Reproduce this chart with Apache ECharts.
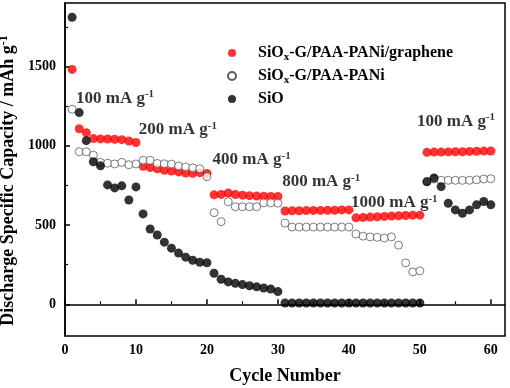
<!DOCTYPE html>
<html>
<head>
<meta charset="utf-8">
<script src="https://cdn.jsdelivr.net/npm/echarts@6/dist/echarts.min.js"></script>
<style>
  html, body { margin: 0; padding: 0; background: #fff; }
  #chart { width: 510px; height: 388px; }
</style>
</head>
<body>
<div id="chart"></div>
<script>
const cycles = [1, 2, 3, 4, 5, 6, 7, 8, 9, 10, 11, 12, 13, 14, 15, 16, 17, 18, 19, 20,
  21, 22, 23, 24, 25, 26, 27, 28, 29, 30, 31, 32, 33, 34, 35, 36, 37, 38, 39, 40,
  41, 42, 43, 44, 45, 46, 47, 48, 49, 50, 51, 52, 53, 54, 55, 56, 57, 58, 59, 60];

// SiOx-G/PAA-PANi/graphene (red)
const grapheneCap = [1481, 1107, 1082, 1045, 1043, 1042, 1040, 1038, 1030, 1020,
  870, 862, 855, 845, 840, 835, 828, 826, 830, 825,
  690, 693, 702, 692, 688, 685, 683, 682, 680, 680,
  588, 590, 590, 591, 592, 592, 593, 593, 595, 595,
  545, 548, 550, 552, 554, 556, 558, 560, 562, 562,
  958, 960, 960, 961, 962, 962, 964, 965, 966, 967];

// SiOx-G/PAA-PANi (open)
const paniCap = [1230, 962, 962, 940, 895, 890, 885, 895, 880, 885,
  908, 908, 888, 886, 884, 872, 866, 860, 855, 805,
  578, 521, 647, 615, 615, 615, 615, 640, 640, 638,
  512, 487, 487, 487, 487, 487, 487, 487, 487, 487,
  443, 430, 425, 422, 418, 425, 373, 261, 204, 211,
  775, 790, 782, 782, 782, 782, 782, 785, 790, 792];

// SiO (black)
const sioCap = [1810, 1209, 1032, 899, 873, 753, 734, 747, 658, 740,
  570, 475, 437, 392, 354, 323, 297, 278, 265, 262,
  196, 158, 141, 132, 124, 117, 110, 103, 96, 80,
  8, 8, 8, 8, 8, 8, 8, 8, 8, 8,
  8, 8, 8, 8, 8, 8, 8, 8, 8, 8,
  772, 797, 742, 637, 595, 574, 595, 627, 648, 627];

const seriesNames = ['SiOx-G/PAA-PANi/graphene', 'SiOx-G/PAA-PANi', 'SiO'];

// current density labels: [cycle, capacity, text]
const rateLabels = [
  [1.55, 1297, '100 mA g'],
  [10.4, 1101, '200 mA g'],
  [20.8, 911, '400 mA g'],
  [30.6, 772, '800 mA g'],
  [40.3, 639, '1000 mA g'],
  [49.6, 1152, '100 mA g']
];

const xTicks = [0, 10, 20, 30, 40, 50, 60];
const xMinor = [5, 15, 25, 35, 45, 55];
const yTicks = [0, 500, 1000, 1500];
const yMinor = [250, 750, 1250, 1750];

const font = "'Liberation Serif', 'Times New Roman', serif";

function pairs(vals) {
  return cycles.map((c, i) => [c, vals[i]]);
}

function legendText(name) {
  if (name.indexOf('SiOx') === 0) {
    return '{t|SiO}{sub|x}{t|' + name.slice(4) + '}';
  }
  return '{t|' + name + '}';
}

const chart = echarts.init(document.getElementById('chart'));

const axisFont = { fontFamily: font, fontWeight: 'bold', fontSize: 14, color: '#000', formatter: v => String(v) };

const option = {
  animation: false,
  grid: {
    left: 65, right: 5, top: 3, bottom: 52,
    outerBoundsMode: 'none',
    show: true, borderColor: '#000', borderWidth: 1.5
  },
  legend: {
    data: seriesNames,
    orient: 'vertical',
    left: 222,
    top: 40,
    itemWidth: 8,
    itemHeight: 8,
    itemGap: 5,
    formatter: legendText,
    textStyle: {
      padding: [0, 0, 0, 17],
      rich: {
        t: { fontFamily: font, fontWeight: 'bold', fontSize: 16, color: '#000', lineHeight: 18 },
        sub: { fontFamily: font, fontWeight: 'bold', fontSize: 11, color: '#000', padding: [9, 0, 0, 0] }
      }
    }
  },
  xAxis: [
    {
      type: 'value', min: 0, max: 62,
      name: 'Cycle Number', nameLocation: 'middle', nameGap: 31,
      nameTextStyle: { fontFamily: font, fontWeight: 'bold', fontSize: 18, color: '#000' },
      axisLine: { lineStyle: { color: '#000', width: 1.5 } },
      axisTick: { inside: true, length: 5, lineStyle: { color: '#000', width: 1.5 }, customValues: xTicks },
      axisLabel: Object.assign({ margin: 7, customValues: xTicks }, axisFont),
      splitLine: { show: false }
    },
    {
      type: 'value', min: 0, max: 62, position: 'bottom',
      axisLine: { show: false },
      axisTick: { inside: true, length: 3, lineStyle: { color: '#000', width: 1.2 }, customValues: xMinor },
      axisLabel: { show: false },
      splitLine: { show: false }
    }
  ],
  yAxis: [
    {
      type: 'value', min: -200, max: 1900,
      name: '{t|Discharge Specific Capacity / mAh g}{sup|-1}',
      nameLocation: 'middle', nameGap: 39,
      nameTextStyle: {
        padding: [0, 22, 0, 0],
        rich: {
          t: { fontFamily: font, fontWeight: 'bold', fontSize: 18, color: '#000', lineHeight: 20 },
          sup: { fontFamily: font, fontWeight: 'bold', fontSize: 12, color: '#000', padding: [0, 0, 9, 0] }
        }
      },
      axisLine: { lineStyle: { color: '#000', width: 1.5 } },
      axisTick: { inside: true, length: 5, lineStyle: { color: '#000', width: 1.5 }, customValues: yTicks },
      axisLabel: Object.assign({ margin: 9, customValues: yTicks }, axisFont),
      splitLine: { show: false }
    },
    {
      type: 'value', min: -200, max: 1900, position: 'left',
      axisLine: { show: false },
      axisTick: { inside: true, length: 3, lineStyle: { color: '#000', width: 1.2 }, customValues: yMinor },
      axisLabel: { show: false },
      splitLine: { show: false }
    }
  ],
  series: [
    {
      name: seriesNames[0], type: 'scatter', symbol: 'circle', symbolSize: 9,
      itemStyle: { color: '#ff0000' },
      data: pairs(grapheneCap)
    },
    {
      name: seriesNames[1], type: 'scatter', symbol: 'circle', symbolSize: 8,
      itemStyle: { color: '#fff', borderColor: '#333', borderWidth: 0.8 },
      data: pairs(paniCap)
    },
    {
      name: seriesNames[2], type: 'scatter', symbol: 'circle', symbolSize: 9,
      itemStyle: { color: '#000' },
      data: pairs(sioCap)
    },
    {
      name: 'rates', type: 'scatter', symbolSize: 0, silent: true,
      data: rateLabels,
      label: {
        show: true, position: 'right', distance: 0,
        formatter: p => '{n|' + p.data[2] + '}{s|-1}',
        rich: {
          n: { fontFamily: font, fontWeight: 'bold', fontSize: 17, color: '#000', lineHeight: 18 },
          s: { fontFamily: font, fontWeight: 'bold', fontSize: 11, color: '#000', padding: [0, 0, 8, 0] }
        }
      }
    }
  ]
};

chart.setOption(option);
</script>
</body>
</html>
